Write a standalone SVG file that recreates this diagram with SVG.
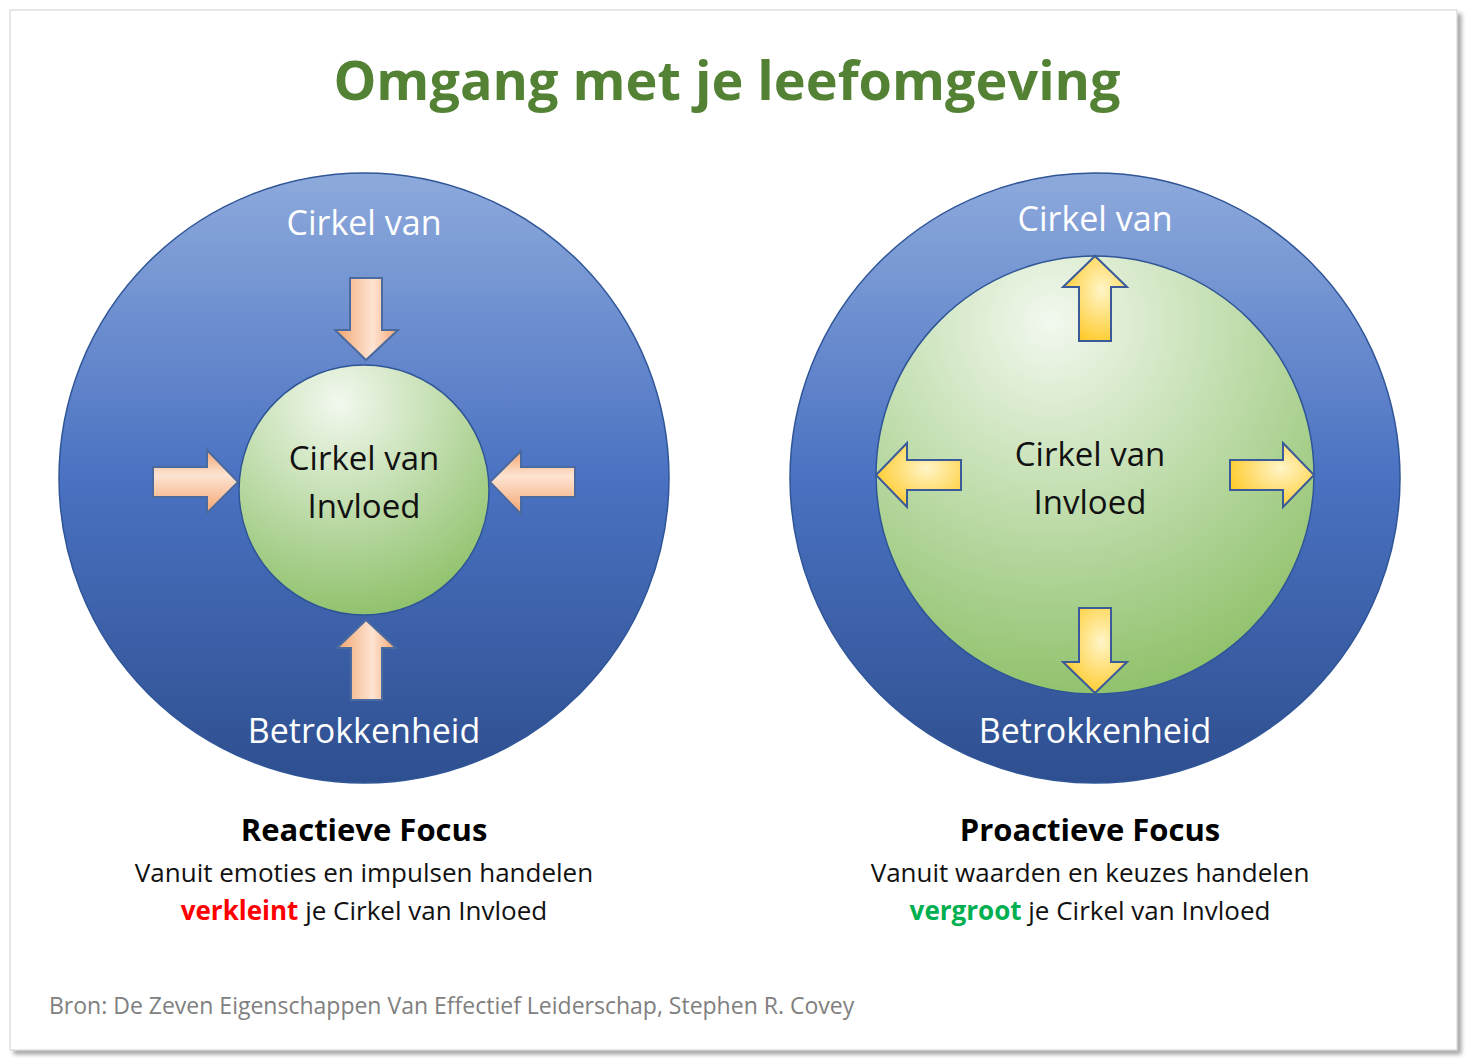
<svg xmlns="http://www.w3.org/2000/svg" width="1468" height="1061" viewBox="0 0 1468 1061">
<defs>
<linearGradient id="blue" x1="0" y1="0" x2="0" y2="1"><stop offset="0" stop-color="#8eaadc"/><stop offset="0.5" stop-color="#4a72c2"/><stop offset="1" stop-color="#2e4f8f"/></linearGradient>
<radialGradient id="green" cx="0.4" cy="0.15" r="0.9"><stop offset="0" stop-color="#f2f8ee"/><stop offset="0.7" stop-color="#a9d08e"/><stop offset="1" stop-color="#8cbf66"/></radialGradient>
<linearGradient id="orangeV" x1="0" y1="0" x2="1" y2="0"><stop offset="0" stop-color="#f4a46e"/><stop offset="0.6" stop-color="#fde4d3"/><stop offset="1" stop-color="#f4a46e"/></linearGradient>
<linearGradient id="orangeH" x1="0" y1="0" x2="0" y2="1"><stop offset="0" stop-color="#f4a46e"/><stop offset="0.4" stop-color="#fde4d3"/><stop offset="1" stop-color="#f4a46e"/></linearGradient>
<radialGradient id="yellow" cx="0.6" cy="0.4" r="0.7"><stop offset="0" stop-color="#fff5c8"/><stop offset="1" stop-color="#ffc71f"/></radialGradient>
<filter id="sh" x="-5%" y="-5%" width="110%" height="110%"><feDropShadow dx="4" dy="4" stdDeviation="2" flood-color="#000" flood-opacity="0.35"/></filter>
</defs>
<style>
.w{font-family:"Open Sans","Liberation Sans",sans-serif;font-size:34px;fill:#fff;text-anchor:middle}
.k{font-family:"Open Sans","Liberation Sans",sans-serif;font-size:33px;fill:#111;text-anchor:middle}
.h{font-family:"Open Sans","Liberation Sans",sans-serif;font-size:31px;font-weight:bold;fill:#000;text-anchor:middle}
.s{font-family:"Open Sans","Liberation Sans",sans-serif;font-size:26px;fill:#111;text-anchor:middle}
.ao{stroke:#4a6aa0;stroke-width:2}
.ay{stroke:#3a5a9a;stroke-width:2}
</style>
<rect x="0" y="0" width="1468" height="1061" fill="#fff"/>
<rect x="10" y="10" width="1447" height="1040" fill="#fff" stroke="#cfcfcf" filter="url(#sh)"/>
<text x="727" y="100" font-family="'Open Sans','Liberation Sans',sans-serif" font-size="54" font-weight="bold" fill="#548235" text-anchor="middle">Omgang met je leefomgeving</text>

<g id="left">
<circle cx="364" cy="478" r="305" fill="url(#blue)" stroke="#2f5597" stroke-width="1.5"/>
<circle cx="364" cy="490" r="125" fill="url(#green)" stroke="#2f5597" stroke-width="1.5"/>
<text class="w" x="364" y="235">Cirkel van</text>
<text class="w" x="364" y="743">Betrokkenheid</text>
<text class="k" x="364" y="470">Cirkel van</text>
<text class="k" x="364" y="518">Invloed</text>
</g>
<g id="left-arrows">
<polygon class="ao" fill="url(#orangeV)" points="350,278 382,278 382,330 398,330 366,360 335,330 350,330"/>
<polygon class="ao" fill="url(#orangeH)" points="153,467 207,467 207,450 238,482 207,513 207,497 153,497"/>
<polygon class="ao" fill="url(#orangeH)" points="575,467 521,467 521,451 490,482 521,514 521,497 575,497"/>
<polygon class="ao" fill="url(#orangeV)" points="351,700 382,700 382,648 396,648 366,620 337,648 351,648"/>
</g>

<g id="right">
<circle cx="1095" cy="478" r="305" fill="url(#blue)" stroke="#2f5597" stroke-width="1.5"/>
<circle cx="1095" cy="475" r="219" fill="url(#green)" stroke="#2f5597" stroke-width="1.5"/>
<text class="w" x="1095" y="231">Cirkel van</text>
<text class="w" x="1095" y="743">Betrokkenheid</text>
<text class="k" x="1090" y="466">Cirkel van</text>
<text class="k" x="1090" y="514">Invloed</text>
</g>
<g id="right-arrows">
<polygon class="ay" fill="url(#yellow)" points="1079,341 1111,341 1111,287 1127,287 1095,256 1063,287 1079,287"/>
<polygon class="ay" fill="url(#yellow)" points="1079,608 1111,608 1111,662 1127,662 1095,693 1063,662 1079,662"/>
<polygon class="ay" fill="url(#yellow)" points="1230,460 1283,460 1283,443 1314,475 1283,507 1283,490 1230,490"/>
<polygon class="ay" fill="url(#yellow)" points="961,460 907,460 907,443 876,475 907,507 907,490 961,490"/>
</g>

<g id="captions">
<text class="h" x="364" y="841">Reactieve Focus</text>
<text class="s" x="364" y="882">Vanuit emoties en impulsen handelen</text>
<text class="s" x="364" y="920"><tspan fill="#ff0000" font-weight="bold">verkleint</tspan> je Cirkel van Invloed</text>
<text class="h" x="1090" y="841">Proactieve Focus</text>
<text class="s" x="1090" y="882">Vanuit waarden en keuzes handelen</text>
<text class="s" x="1090" y="920"><tspan fill="#00b050" font-weight="bold">vergroot</tspan> je Cirkel van Invloed</text>
<text x="49" y="1014" font-family="'Open Sans','Liberation Sans',sans-serif" font-size="23" fill="#808080">Bron: De Zeven Eigenschappen Van Effectief Leiderschap, Stephen R. Covey</text>
</g>
</svg>
